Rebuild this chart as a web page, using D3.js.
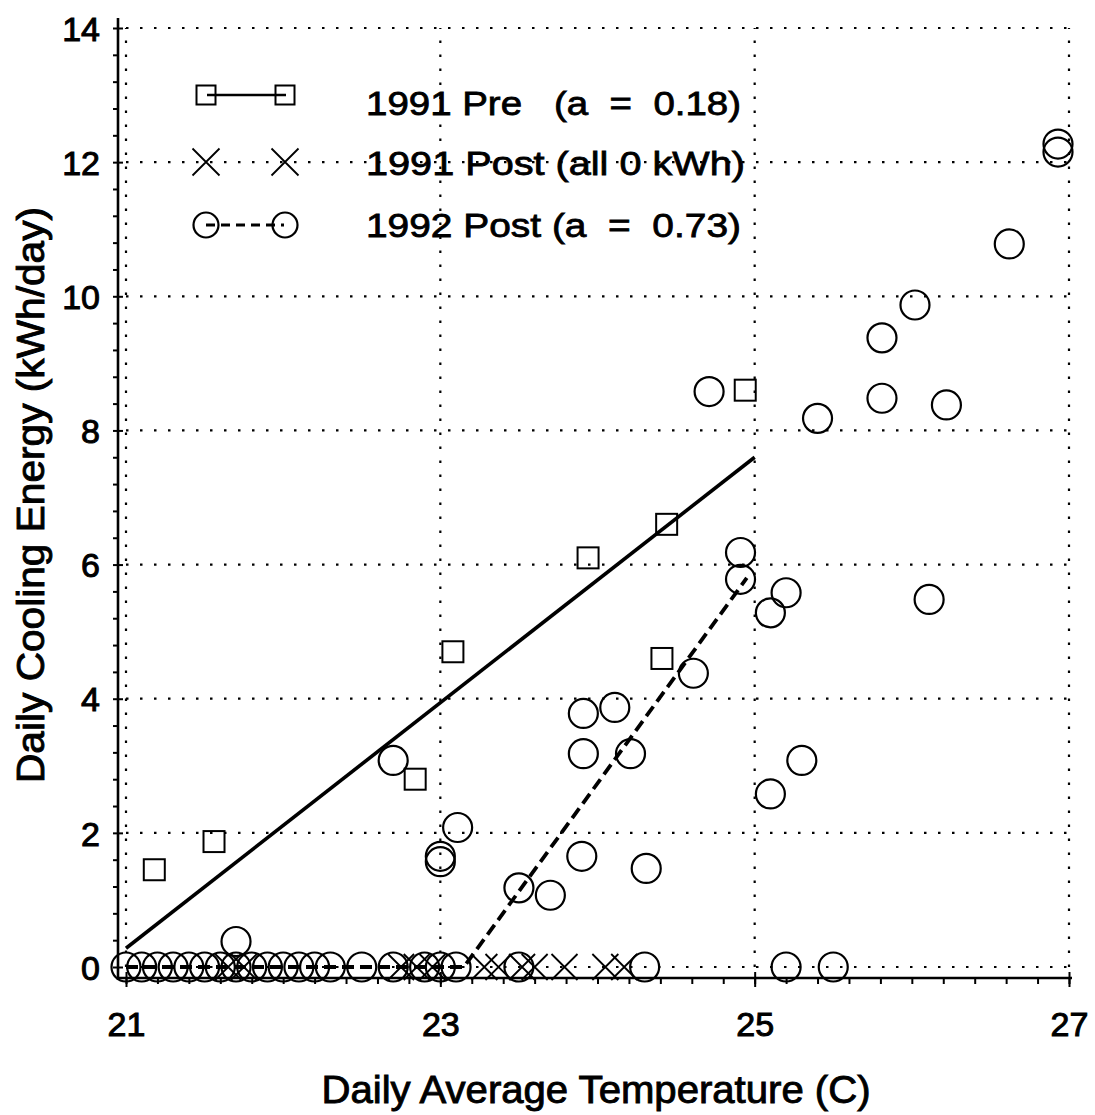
<!DOCTYPE html>
<html><head><meta charset="utf-8">
<script src="https://cdn.jsdelivr.net/npm/d3@7"></script>
<style>
body{margin:0;background:#fff}
svg{display:block}
text{font-family:"Liberation Sans",Arial,Helvetica,sans-serif;fill:#000}
</style>
</head><body>
<svg id="c" width="1095" height="1115"></svg>
<script>
// ---- data ----
const preTemp   = [21.18, 21.56, 22.84, 23.08, 23.94, 24.41, 24.44, 24.94];
const preEnergy = [1.45, 1.87, 2.80, 4.70, 6.10, 4.60, 6.60, 8.60];

const post91Temp   = [21.65, 21.75, 22.75, 22.85, 22.95, 23.28, 23.37, 23.52, 23.60, 23.79, 24.05, 24.17];
const post91Energy = [0, 0, 0, 0, 0, 0, 0, 0, 0, 0, 0, 0];

const post92Temp = [26.93, 26.93, 26.62, 26.02, 25.81, 25.81, 26.22, 25.40, 24.71, 24.91, 24.91, 25.10,
  25.20, 26.11, 24.61, 23.91, 24.11, 23.91, 24.21, 25.30, 25.10, 22.70, 23.11, 23.00, 23.00, 23.90,
  24.31, 23.50, 23.70, 21.70,
  21.0, 21.1, 21.2, 21.3, 21.4, 21.5, 21.6, 21.7, 21.8, 21.9, 22.0, 22.1, 22.2, 22.3, 22.5, 22.7,
  22.9, 23.0, 23.1, 23.5, 24.3, 25.2, 25.5];
const post92Energy = [12.27, 12.15, 10.78, 9.87, 9.38, 8.48, 8.38, 8.18, 8.58, 6.18, 5.78, 5.28,
  5.58, 5.48, 4.38, 3.78, 3.87, 3.18, 3.18, 3.08, 2.58, 3.08, 2.08, 1.65, 1.57, 1.65,
  1.47, 1.18, 1.07, 0.38,
  0, 0, 0, 0, 0, 0, 0, 0, 0, 0, 0, 0, 0, 0, 0, 0,
  0, 0, 0, 0, 0, 0, 0];

const preFitTemp   = [21.0, 25.0];
const preFitEnergy = [0.28, 7.60];
const post92FitTemp   = [21.0, 23.15, 24.95];
const post92FitEnergy = [0, 0, 5.80];

const xTickValues = [21, 23, 25, 27];
const yTickValues = [0, 2, 4, 6, 8, 10, 12, 14];
const xTitle = "Daily Average Temperature (C)";
const yTitle = "Daily Cooling Energy (kWh/day)";
const legendLabels = ["1991 Pre   (a  =  0.18)", "1991 Post (all 0 kWh)", "1992 Post (a  =  0.73)"];
const legendTypes  = ["square", "cross", "circle"];

// ---- layout ----
const svg = d3.select("#c");
const x = d3.scaleLinear().domain([21, 27]).range([126, 1069]);
const y = d3.scaleLinear().domain([0, 14]).range([967, 28]);
const axisX0 = 118, axisY0 = 978;

// grid (dotted)
const grid = svg.append("g").attr("stroke", "#000").attr("stroke-width", 2.2)
  .attr("stroke-dasharray", "2.5,11.5").attr("fill", "none");
grid.selectAll("line.h").data(yTickValues).join("line")
  .attr("x1", x(21)).attr("x2", x(27)).attr("y1", d => y(d)).attr("y2", d => y(d));
grid.selectAll("line.v").data(xTickValues).join("line")
  .attr("x1", d => x(d)).attr("x2", d => x(d)).attr("y1", y(0)).attr("y2", y(14));

// axes
const yAxisG = svg.append("g").attr("transform", `translate(${axisX0},0)`);
yAxisG.call(d3.axisLeft(y).tickValues(d3.range(0, 14.001, 0.4)).tickSize(5).tickFormat(""));
yAxisG.call(g => g.select(".domain").remove());
const yMajor = svg.append("g").attr("transform", `translate(${axisX0},0)`)
  .call(d3.axisLeft(y).tickValues(yTickValues).tickSizeInner(9).tickSizeOuter(0).tickPadding(9).tickFormat(d3.format("d")));
yMajor.select(".domain").remove();
yMajor.selectAll(".tick line").attr("x2", 5);
yMajor.selectAll(".tick text").attr("font-size", 34).attr("stroke", "#000").attr("stroke-width", 1).attr("dy", "0.36em");

const xAxisG = svg.append("g").attr("transform", `translate(0,${axisY0})`);
xAxisG.call(d3.axisBottom(x).tickValues(d3.range(21, 27.001, 0.2)).tickSize(6).tickFormat(""));
xAxisG.call(g => g.select(".domain").remove());
const xMajor = svg.append("g").attr("transform", `translate(0,${axisY0})`)
  .call(d3.axisBottom(x).tickValues(xTickValues).tickSizeInner(9).tickSizeOuter(0).tickFormat(d3.format("d")));
xMajor.select(".domain").remove();
xMajor.selectAll(".tick line").attr("y1", -6);
xMajor.selectAll(".tick text").attr("font-size", 34).attr("stroke", "#000").attr("stroke-width", 1)
  .attr("y", 58).attr("dy", 0);
svg.selectAll(".tick line").attr("stroke", "#000").attr("stroke-width", 2);

// axis lines
svg.append("line").attr("x1", axisX0).attr("x2", axisX0).attr("y1", y(14) - 10).attr("y2", axisY0 + 2)
  .attr("stroke", "#000").attr("stroke-width", 2.6);
svg.append("line").attr("x1", axisX0).attr("x2", x(27) + 3).attr("y1", axisY0).attr("y2", axisY0)
  .attr("stroke", "#000").attr("stroke-width", 2.6);

// titles
svg.append("text").attr("x", 596).attr("y", 1103).attr("text-anchor", "middle")
  .attr("font-size", 38).attr("stroke", "#000").attr("stroke-width", 0.9)
  .attr("textLength", 549).attr("lengthAdjust", "spacingAndGlyphs").text(xTitle);
svg.append("text").attr("transform", "translate(44,495) rotate(-90)").attr("text-anchor", "middle")
  .attr("font-size", 38).attr("stroke", "#000").attr("stroke-width", 0.9)
  .attr("textLength", 576).attr("lengthAdjust", "spacingAndGlyphs").text(yTitle);

// fit lines
const line = d3.line().x(d => x(d[0])).y(d => y(d[1]));
svg.append("path").datum(d3.zip(preFitTemp, preFitEnergy)).attr("d", line)
  .attr("fill", "none").attr("stroke", "#000").attr("stroke-width", 3.6);
svg.append("path").datum(d3.zip(post92FitTemp, post92FitEnergy)).attr("d", line)
  .attr("fill", "none").attr("stroke", "#000").attr("stroke-width", 3.8).attr("stroke-dasharray", "12,6");

// markers
function drawMarker(g, type, cx, cy, s) {
  if (type === "square") {
    g.append("rect").attr("x", cx - s / 2).attr("y", cy - s / 2).attr("width", s).attr("height", s)
      .attr("fill", "none").attr("stroke", "#000").attr("stroke-width", 2);
  } else if (type === "circle") {
    g.append("circle").attr("cx", cx).attr("cy", cy).attr("r", s / 2)
      .attr("fill", "none").attr("stroke", "#000").attr("stroke-width", 2.2);
  } else {
    const h = s / 2;
    g.append("path").attr("d", `M${cx - h},${cy - h}L${cx + h},${cy + h}M${cx - h},${cy + h}L${cx + h},${cy - h}`)
      .attr("fill", "none").attr("stroke", "#000").attr("stroke-width", 1.8);
  }
}
const mk = svg.append("g");
d3.zip(post92Temp, post92Energy).forEach(d => drawMarker(mk, "circle", x(d[0]), y(d[1]), 29));
d3.zip(post91Temp, post91Energy).forEach(d => drawMarker(mk, "cross", x(d[0]), y(d[1]), 26));
d3.zip(preTemp, preEnergy).forEach(d => drawMarker(mk, "square", x(d[0]), y(d[1]), 21));

// legend
const lg = svg.append("g");
const legRowY = [95, 162, 225];
const legTextY = [115, 175, 237];
const legTextW = [375, 379, 375];
const legSizes = [19, 27, 25];
legendTypes.forEach((t, i) => {
  const yy = legRowY[i];
  if (t === "square") {
    lg.append("line").attr("x1", 207).attr("x2", 286).attr("y1", yy).attr("y2", yy)
      .attr("stroke", "#000").attr("stroke-width", 2.6);
  } else if (t === "circle") {
    lg.append("line").attr("x1", 206).attr("x2", 284).attr("y1", yy).attr("y2", yy)
      .attr("stroke", "#000").attr("stroke-width", 3.2).attr("stroke-dasharray", "9,6");
  }
  drawMarker(lg, t, 206, yy, legSizes[i]);
  drawMarker(lg, t, 285, yy, legSizes[i]);
  lg.append("text").attr("x", 366).attr("y", legTextY[i]).attr("xml:space", "preserve")
    .style("white-space", "pre")
    .attr("font-size", 34).attr("stroke", "#000").attr("stroke-width", 0.8)
    .attr("textLength", legTextW[i]).attr("lengthAdjust", "spacingAndGlyphs")
    .text(legendLabels[i]);
});
</script>
</body></html>
